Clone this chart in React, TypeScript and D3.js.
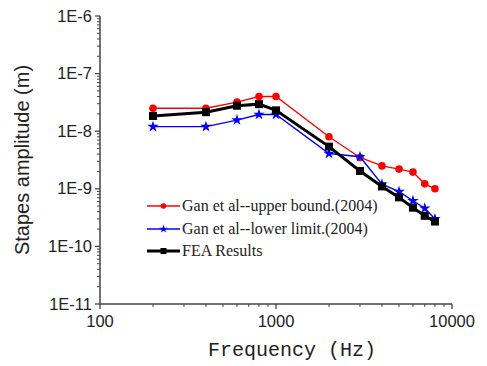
import React from "react";
import * as d3 from "d3";

const freqs = [200, 400, 600, 800, 1000, 2000, 3000, 4000, 5000, 6000, 7000, 8000];
const upperBound = [2.5e-8, 2.5e-8, 3.2e-8, 4.0e-8, 4.0e-8, 8.0e-9, 3.5e-9, 2.5e-9, 2.2e-9, 1.95e-9, 1.22e-9, 1.0e-9];
const lowerLimit = [1.2e-8, 1.2e-8, 1.56e-8, 1.95e-8, 1.95e-8, 4.1e-9, 3.6e-9, 1.2e-9, 8.9e-10, 6.2e-10, 4.6e-10, 3.0e-10];
const feaResults = [1.84e-8, 2.14e-8, 2.77e-8, 2.95e-8, 2.3e-8, 5.4e-9, 2.04e-9, 1.1e-9, 7.1e-10, 4.7e-10, 3.4e-10, 2.7e-10];
const yTickLabels = ["1E-11", "1E-10", "1E-9", "1E-8", "1E-7", "1E-6"];
const xTickLabels = ["100", "1000", "10000"];
const legendLabels = ["Gan et al--upper bound.(2004)", "Gan et al--lower limit.(2004)", "FEA Results"];

const W = 487, H = 366;
const L = 100, R = 452, T = 16, B = 304;

export default function App() {
  const x = d3.scaleLog().domain([100, 10000]).range([L, R]);
  const y = d3.scaleLog().domain([1e-11, 1e-6]).range([B, T]);
  const line = d3.line<[number, number]>().x(d => x(d[0])).y(d => y(d[1]));
  const ser = (vals: number[]) => freqs.map((f, i) => [f, vals[i]] as [number, number]);

  const xMinor: number[] = [];
  for (let dec = 100; dec < 10000; dec *= 10) for (let k = 2; k <= 9; k++) xMinor.push(dec * k);
  const yMinor: number[] = [];
  for (let e = -11; e < -6; e++) for (let k = 2; k <= 9; k++) yMinor.push(k * Math.pow(10, e));
  const yMajor = yTickLabels.map(s => Number(s));
  const xMajor = xTickLabels.map(s => Number(s));

  const star = d3.symbol().type(d3.symbolStar).size(40)() as string;
  const starSmall = d3.symbol().type(d3.symbolStar).size(22)() as string;
  const axisColor = "#444";

  const legendY = [206, 229, 251];
  const legendColors = ["#ff0000", "#0000ff", "#000000"];

  const marker = (i: number, cx: number, cy: number, key: string, small = false) => {
    if (i === 0) return <circle key={key} cx={cx} cy={cy} r={small ? 2.8 : 3.8} fill="#ff0000" />;
    if (i === 1) return <path key={key} d={small ? starSmall : star} transform={`translate(${cx},${cy})`} fill="#0000ff" />;
    const s = small ? 6 : 8;
    return <rect key={key} x={cx - s / 2} y={cy - s / 2} width={s} height={s} fill="#000" />;
  };

  const series = [upperBound, lowerLimit, feaResults];
  const widths = [1.4, 1.4, 3];

  return (
    <svg width={W} height={H} style={{ position: "absolute", left: 0, top: 0, background: "#fff" }}>
      {/* axes */}
      <line x1={L} y1={T} x2={L} y2={B} stroke={axisColor} strokeWidth={1.5} />
      <line x1={L} y1={B} x2={R} y2={B} stroke={axisColor} strokeWidth={1.5} />
      {yMajor.map((v, i) => (
        <g key={"ym" + i}>
          <line x1={L - 5} x2={L} y1={y(v)} y2={y(v)} stroke={axisColor} strokeWidth={1.3} />
          <text x={L - 8} y={y(v) + 5.5} textAnchor="end" fontFamily="Liberation Sans, Arial, sans-serif" fontSize={16.5} fill="#222">{yTickLabels[i]}</text>
        </g>
      ))}
      {yMinor.map((v, i) => (
        <line key={"yn" + i} x1={L - 3} x2={L} y1={y(v)} y2={y(v)} stroke={axisColor} strokeWidth={1} />
      ))}
      {xMajor.map((v, i) => (
        <g key={"xm" + i}>
          <line x1={x(v)} x2={x(v)} y1={B} y2={B + 5} stroke={axisColor} strokeWidth={1.3} />
          <text x={x(v)} y={B + 23} textAnchor="middle" fontFamily="Liberation Sans, Arial, sans-serif" fontSize={16.5} fill="#222">{xTickLabels[i]}</text>
        </g>
      ))}
      {xMinor.map((v, i) => (
        <line key={"xn" + i} x1={x(v)} x2={x(v)} y1={B} y2={B + 3} stroke={axisColor} strokeWidth={1} />
      ))}
      <text x={292} y={356} textAnchor="middle" fontFamily="Liberation Mono, Courier New, monospace" fontSize={20} fill="#222">Frequency (Hz)</text>
      <text transform={`translate(29,${160}) rotate(-90)`} textAnchor="middle" fontFamily="Liberation Sans, Arial, sans-serif" fontSize={20} fill="#222">Stapes amplitude (m)</text>

      {/* series */}
      {series.map((vals, si) => (
        <g key={"s" + si}>
          <path d={line(ser(vals)) as string} fill="none" stroke={legendColors[si]} strokeWidth={widths[si]} />
          {ser(vals).map((d, j) => marker(si, x(d[0]), y(d[1]), `m${si}-${j}`))}
        </g>
      ))}

      {/* legend */}
      {legendLabels.map((lab, i) => (
        <g key={"lg" + i}>
          <line x1={147} x2={180} y1={legendY[i]} y2={legendY[i]} stroke={legendColors[i]} strokeWidth={widths[i]} />
          {marker(i, 163.5, legendY[i], "lm" + i, true)}
          <text x={182} y={legendY[i] + 5} fontFamily="Liberation Serif, Times New Roman, serif" fontSize={16} fill="#222">{lab}</text>
        </g>
      ))}
    </svg>
  );
}
